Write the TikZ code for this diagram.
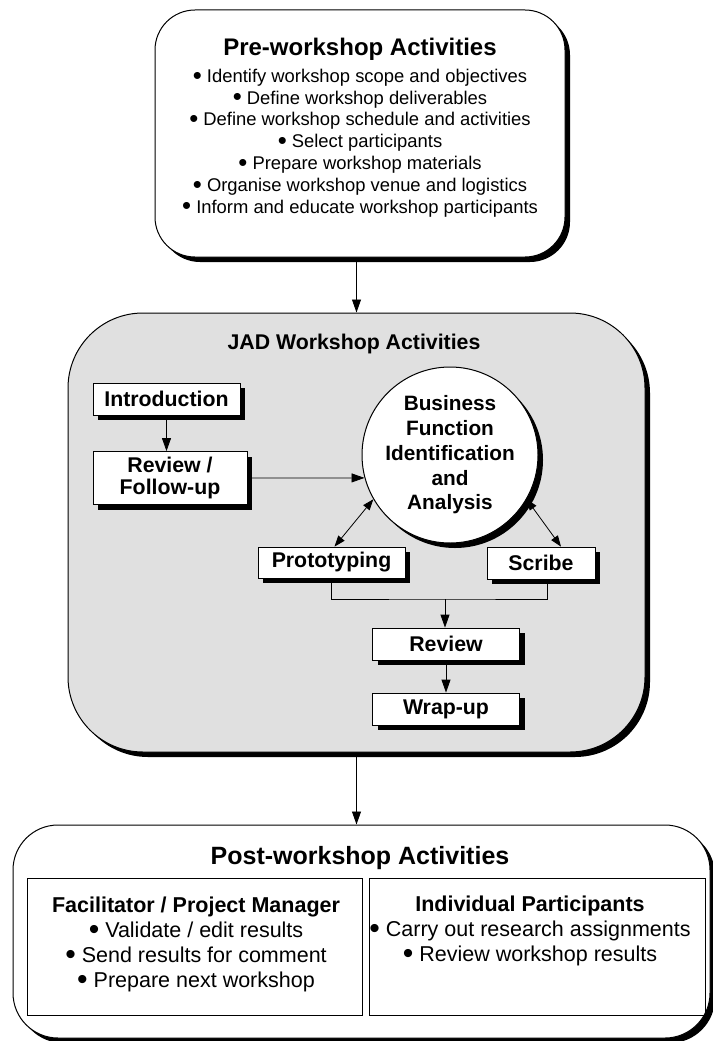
\documentclass[tikz,border=0pt]{standalone}
\usepackage{fontspec}
\setmainfont{Liberation Sans}
\usepackage{tikz}
\usetikzlibrary{arrows.meta, positioning, shadows, calc}

\newcommand{\bul}{\raisebox{-0.1em}{\scalebox{1.4}{\textbullet}}\ }

\begin{document}
\begin{tikzpicture}[
    x=1pt, y=-1pt,
    phase/.style={draw, line width=1pt, rounded corners=#1,
        drop shadow={shadow xshift=5pt, shadow yshift=-5pt, fill=black, opacity=1}},
    task/.style={draw, fill=white, line width=0.8pt, inner sep=0pt, align=center,
        font=\bfseries\fontsize{21.3}{22}\selectfont,
        drop shadow={shadow xshift=5pt, shadow yshift=-5pt, fill=black, opacity=1}},
    group/.style={draw, line width=0.8pt, inner sep=0pt},
    title/.style={font=\bfseries\fontsize{24}{28}\selectfont},
    line/.style={draw, line width=0.8pt, -{Triangle[length=13pt, width=9pt]}},
    both/.style={draw, line width=0.8pt, {Triangle[length=11pt, width=8pt]}-{Triangle[length=11pt, width=8pt]}}
]
    \useasboundingbox (0,0) rectangle (712,1041);

    % Pre-workshop
    \node[phase=40pt, fill=white, minimum width=410pt, minimum height=247pt] (pre) at (360,133.5) {};
    \node[title] (pretitle) at (360,49) {Pre-workshop Activities};
    \node[align=center, font=\fontsize{18.4}{21.8}\selectfont] (prelist) at (360,143) {
        \bul Identify workshop scope and objectives\\
        \bul Define workshop deliverables\\
        \bul Define workshop schedule and activities\\
        \bul Select participants\\
        \bul Prepare workshop materials\\
        \bul Organise workshop venue and logistics\\
        \bul Inform and educate workshop participants
    };

    % JAD workshop
    \node[phase=75pt, fill=black!12, minimum width=577pt, minimum height=439pt] (jad) at (356.5,532.5) {};
    \node[font=\bfseries\fontsize{21.3}{24}\selectfont] (jadtitle) at (354,344) {JAD Workshop Activities};

    \node[task, minimum width=147pt, minimum height=32pt] (intro) at (166.5,399) {Introduction};
    \node[task, minimum width=154pt, minimum height=53pt] (revfol) at (170,478) {Review /\\Follow-up};
    \node[task, circle, minimum size=176pt, line width=1pt,
          font=\bfseries\fontsize{20.8}{24.7}\selectfont] (bfia) at (450,455)
          {Business\\Function\\Identification\\and\\Analysis};
    \node[task, minimum width=147pt, minimum height=31pt] (proto) at (331.5,562.5) {Prototyping};
    \node[task, minimum width=108pt, minimum height=32pt] (scribe) at (541,563) {Scribe};
    \node[task, minimum width=147pt, minimum height=32pt] (review) at (446,644) {Review};
    \node[task, minimum width=147pt, minimum height=32pt] (wrapup) at (446,709) {Wrap-up};

    \draw[line] (intro.south) -- (intro.south |- revfol.north);
    \draw[line] (revfol.east) -- (bfia.195);
    \draw[both] (bfia.210) -- ([xshift=3pt]proto.north);
    \draw[both] (bfia.-30) -- ([xshift=20pt]scribe.north);

    \coordinate (join) at (445,599);
    \draw[line width=0.6pt] (proto.south) |- (join) -| ([xshift=6pt]scribe.south);
    \draw[line] (join) -- (join |- review.north);
    \draw[line] (review.south) -- (wrapup.north);

    % Post-workshop
    \node[phase=45pt, fill=white, minimum width=697pt, minimum height=213pt] (post) at (361.5,931.5) {};
    \node[title, font=\bfseries\fontsize{25}{28}\selectfont] (posttitle) at (360,858) {Post-workshop Activities};
    \node[group, minimum width=335pt, minimum height=137pt] (facil) at (194.5,946.5) {};
    \node[group, minimum width=336pt, minimum height=137pt] (indiv) at (537,946.5) {};
    \node[align=center, font=\fontsize{21.5}{25}\selectfont] (faciltext) at (196,944) {
        \textbf{Facilitator / Project Manager}\\
        \bul Validate / edit results\\
        \bul Send results for comment\\
        \bul Prepare next workshop
    };
    \node[align=center, font=\fontsize{21.5}{25}\selectfont] (indivtext) at (530,931) {
        \textbf{Individual Participants}\\
        \bul Carry out research assignments\\
        \bul Review workshop results
    };

    % Between the phases
    \draw[line] (jad.north |- pre.south) -- (jad.north);
    \draw[line] (jad.south) -- (jad.south |- post.north);
\end{tikzpicture}
\end{document}
